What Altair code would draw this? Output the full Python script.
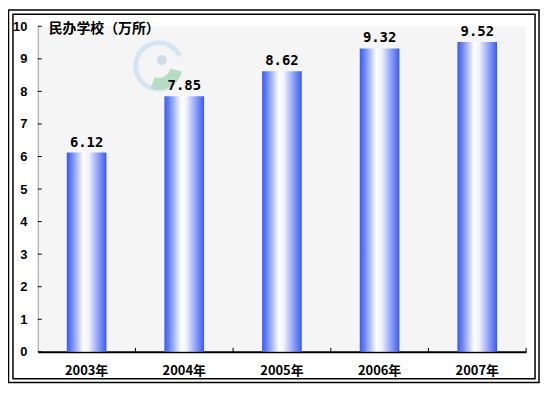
import altair as alt
import pandas as pd

years = ["2003年", "2004年", "2005年", "2006年", "2007年"]
values = [6.12, 7.85, 8.62, 9.32, 9.52]
labels = ["6.12", "7.85", "8.62", "9.32", "9.52"]
y_ticks = [0, 1, 2, 3, 4, 5, 6, 7, 8, 9, 10]
title_text = "民办学校（万所）"

df = pd.DataFrame({"year": years, "value": values, "label": labels})
tick_df = pd.DataFrame({"t": y_ticks})

W, H = 492, 328
STEP = W / len(years)

xscale = alt.Scale(domain=years, paddingInner=0, paddingOuter=0)
yscale = alt.Scale(domain=[0, 10], nice=False)

xaxis = alt.Axis(title=None, labelAngle=0, ticks=False,
                 labelFont="Noto Sans CJK SC", labelFontWeight="bold",
                 labelFontSize=13, labelColor="#000",
                 labelPadding=13, domainColor="#000", domainWidth=2)
yaxis = alt.Axis(title=None, values=y_ticks, tickCount=11, ticks=False, grid=False,
                 labelOverlap=False, labelFont="Liberation Sans",
                 labelFontWeight="bold",
                 labelFontSize=13, labelColor="#000", labelPadding=11,
                 domainColor="#a0a0a0", domainWidth=1)

one = alt.Data(values=[{"a": 1}])

grad = alt.Gradient(
    gradient="linear",
    x1=0, x2=1, y1=0, y2=0,
    stops=[
        alt.GradientStop(offset=0, color="#3a5af0"),
        alt.GradientStop(offset=0.12, color="#6a84f2"),
        alt.GradientStop(offset=0.42, color="#ffffff"),
        alt.GradientStop(offset=0.55, color="#f0f2fe"),
        alt.GradientStop(offset=1, color="#3a5af0"),
    ],
)

bars = alt.Chart(df).mark_bar(size=40, fill=grad).encode(
    x=alt.X("year:N", scale=xscale, sort=years, axis=xaxis),
    y=alt.Y("value:Q", scale=yscale, axis=yaxis),
)

text = alt.Chart(df).mark_text(
    baseline="bottom", dy=-3, font="DejaVu Sans Mono", fontSize=14,
    fontWeight="bold", color="#000"
).encode(
    x=alt.X("year:N", scale=xscale, sort=years, axis=xaxis),
    y=alt.Y("value:Q", scale=yscale, axis=yaxis),
    text="label:N",
)

ytick_rules = alt.Chart(tick_df).mark_rule(color="#000", strokeWidth=1).encode(
    y=alt.Y("t:Q", scale=yscale, axis=yaxis),
    x=alt.value(0), x2=alt.value(4),
)

xtick_rules = alt.Chart(df).mark_rule(color="#000", strokeWidth=1, xOffset=STEP / 2).encode(
    x=alt.X("year:N", scale=xscale, sort=years, axis=xaxis),
    y=alt.value(H), y2=alt.value(H - 4),
)

title = alt.Chart(one).mark_text(
    align="left", baseline="middle", font="Noto Sans CJK SC", fontSize=14,
    fontWeight="bold", color="#000"
).encode(x=alt.value(11), y=alt.value(3), text=alt.value(title_text))

ring = alt.Chart(one).mark_arc(color="#d4e6f4").encode(
    x=alt.value(122), y=alt.value(40),
    theta=alt.value(2.7), theta2=alt.value(7.4),
    radius=alt.value(26), radius2=alt.value(21),
)
leaf = alt.Chart(one).mark_arc(color="#b6dcc4").encode(
    x=alt.value(122), y=alt.value(40),
    theta=alt.value(1.8), theta2=alt.value(3.5),
    radius=alt.value(24), radius2=alt.value(12),
)
dot = alt.Chart(one).mark_arc(color="#cfdde8").encode(
    x=alt.value(125), y=alt.value(34),
    theta=alt.value(0), theta2=alt.value(6.2832),
    radius=alt.value(5),
)

outer = alt.Chart(one).mark_rect(filled=False, stroke="#000", strokeWidth=1.5).encode(
    x=alt.value(-29.5), x2=alt.value(505), y=alt.value(-16.5), y2=alt.value(359),
)
inner = alt.Chart(one).mark_rect(filled=False, stroke="#000", strokeWidth=1.5).encode(
    x=alt.value(-25), x2=alt.value(501), y=alt.value(-12), y2=alt.value(355),
)

chart = alt.layer(
    ring, leaf, dot, bars, text, ytick_rules, xtick_rules, title, outer, inner
).properties(
    width=W, height=H,
    autosize=alt.AutoSizeParams(type="none"),
    padding={"left": 30, "top": 17, "right": 14, "bottom": 32},
    background="#ffffff",
).configure_view(fill="#f5f5f5", stroke=None)

chart.save("out.html", embed_options={"renderer": "svg", "actions": False})
